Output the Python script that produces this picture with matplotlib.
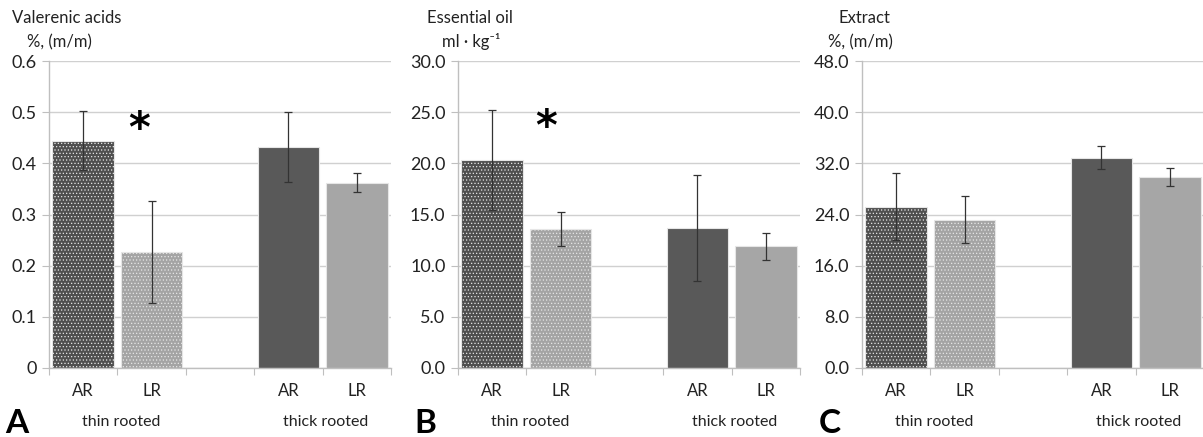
import numpy as np
import matplotlib.pyplot as plt

plt.rcParams['font.family'] = ['Lato', 'DejaVu Sans']

# bar order: thin AR, thin LR, thick AR, thick LR
bar_labels = ['AR', 'LR', 'AR', 'LR']
group_labels = ['thin rooted', 'thick rooted']

valerenic = [0.444, 0.227, 0.432, 0.362]
valerenic_err = [0.058, 0.100, 0.068, 0.019]

oil = [20.3, 13.6, 13.7, 11.9]
oil_err = [4.9, 1.65, 5.2, 1.3]

extract = [25.2, 23.2, 32.9, 29.8]
extract_err = [5.25, 3.7, 1.75, 1.4]

panels = [
    dict(letter='A', title='Valerenic acids', unit='%, (m/m)', vals=valerenic, err=valerenic_err,
         ymax=0.6, step=0.1, fmt='{:g}', star=(0.81, 0.465), tx=-0.108, ux=-0.064),
    dict(letter='B', title='Essential oil', unit='ml \u00b7 kg\u207b\u00b9', vals=oil, err=oil_err,
         ymax=30.0, step=5.0, fmt='{:.1f}', star=(0.79, 23.5), tx=-0.09, ux=-0.047),
    dict(letter='C', title='Extract', unit='%, (m/m)', vals=extract, err=extract_err,
         ymax=48.0, step=8.0, fmt='{:.1f}', star=None, tx=-0.07, ux=-0.10),
]

lefts = [49 / 1203, 458 / 1203, 862 / 1203]
width = 342 / 1203
bottom = 1 - 368 / 437
height = (368 - 61) / 437

positions = [0, 1, 3, 4]
faces = ['#4f4f4f', '#a4a4a4', '#595959', '#a6a6a6']
hatches = ['.....', '.....', None, None]
hatch_cols = ['#6c6c6c', '#bababa', None, None]

fig = plt.figure(figsize=(12.03, 4.37), dpi=100)

for p, left in zip(panels, lefts):
    ax = fig.add_axes([left, bottom, width, height])
    for x, v, e, fc, h, hc in zip(positions, p['vals'], p['err'], faces, hatches, hatch_cols):
        if h:
            plt.rcParams['hatch.color'] = hc
            plt.rcParams['hatch.linewidth'] = 0.5
        ax.bar(x, v, width=0.9, color=fc, edgecolor='#e6e6e6', linewidth=0.8,
               hatch=h, zorder=2)
        ax.errorbar(x, v, yerr=e, fmt='none', ecolor='#333333', elinewidth=0.9,
                    capsize=3, capthick=0.9, zorder=3)

    ticks = np.arange(0, p['ymax'] + p['step'] / 2, p['step'])
    ax.set_ylim(0, p['ymax'])
    ax.set_yticks(ticks)
    ax.set_yticklabels([p['fmt'].format(t) for t in ticks], fontsize=13, color='#222222')
    ax.yaxis.grid(True, color='#d0d0d0', linewidth=1.0, zorder=0)
    ax.set_axisbelow(True)

    ax.set_xlim(-0.5, 4.5)
    ax.set_xticks(np.arange(-0.5, 5, 1.0))
    ax.set_xticklabels([])
    ax.tick_params(axis='x', length=5, color='#bfbfbf', direction='out')
    ax.tick_params(axis='y', length=5, color='#bfbfbf', direction='out', pad=4)

    for s in ['top', 'right']:
        ax.spines[s].set_visible(False)
    for s in ['left', 'bottom']:
        ax.spines[s].set_color('#bfbfbf')
        ax.spines[s].set_linewidth(1.0)

    for x, lab in zip(positions, bar_labels):
        ax.text(x, -0.075, lab, transform=ax.get_xaxis_transform(), ha='center', va='center',
                fontsize=12, color='#222222')
    for x, lab in zip([0.55, 3.55], group_labels):
        ax.text(x, -0.175, lab, transform=ax.get_xaxis_transform(), ha='center', va='center',
                fontsize=11.5, color='#222222')

    ax.text(-0.095, -0.18, p['letter'], transform=ax.transAxes, ha='center', va='center',
            fontsize=24, fontweight='bold', color='black')
    ax.text(p['tx'], 1.14, p['title'], transform=ax.transAxes, ha='left', va='center',
            fontsize=12, color='#222222')
    ax.text(p['ux'], 1.062, p['unit'], transform=ax.transAxes, ha='left', va='center',
            fontsize=12, color='#222222')

    if p['star']:
        ax.text(p['star'][0], p['star'][1], '*', ha='center', va='center',
                fontsize=30, fontweight='bold', color='black', family='DejaVu Sans')

fig.savefig('out.png', dpi=100)
